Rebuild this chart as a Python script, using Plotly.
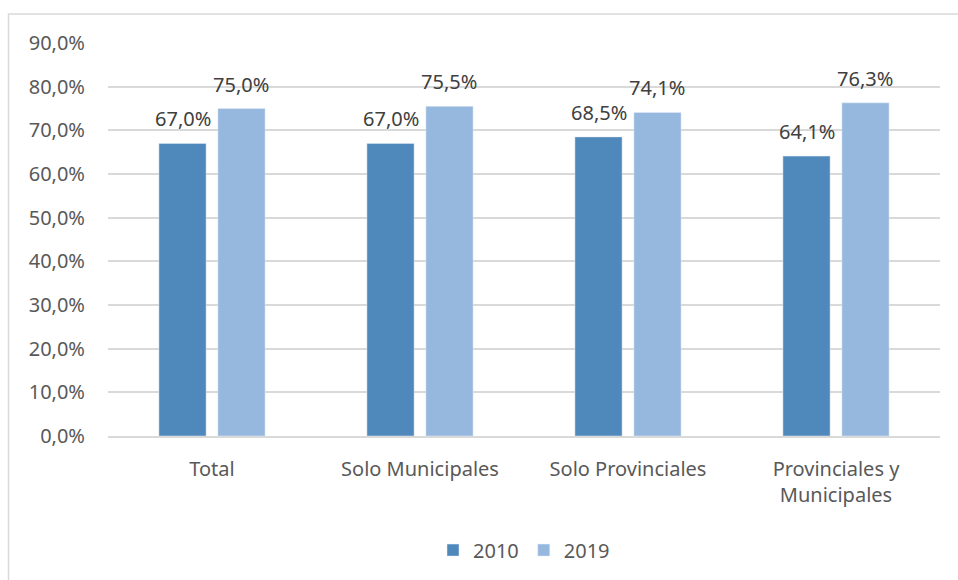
import plotly.graph_objects as go

categories = ["Total", "Solo Municipales", "Solo Provinciales", "Provinciales y<br>Municipales"]
series_names = ["2010", "2019"]
values_2010 = [67.0, 67.0, 68.5, 64.1]
values_2019 = [75.0, 75.5, 74.1, 76.3]
colors = ["#4f88bb", "#97b8de"]

W, H = 958, 580
L, R, T, B = 108, 18, 43, 143
pw, ph = W - L - R, H - T - B

fig = go.Figure()
for name, vals, col in zip(series_names, [values_2010, values_2019], colors):
    fig.add_trace(go.Bar(x=categories, y=vals, name=name, marker_color=col))

# data labels above bars
slot_px = pw / len(categories) * (1 - 0.433) / 2
for i, vals in enumerate([values_2010, values_2019]):
    shift = (i - 0.5) * slot_px
    for c, v in zip(categories, vals):
        fig.add_annotation(x=c, y=v, text=f"{v:.1f}%".replace(".", ","),
                           xshift=shift, yshift=9, yanchor="bottom", showarrow=False,
                           font=dict(size=20, color="#404040"))

fig.update_layout(
    width=W, height=H,
    margin=dict(l=L, r=R, t=T, b=B),
    paper_bgcolor="white", plot_bgcolor="white",
    separators=",.",
    barmode="group", bargap=0.433, bargroupgap=0.2,
    font=dict(family="Noto Sans", color="#595959", size=20),
    legend=dict(orientation="h", x=0.5, xanchor="center", y=-0.287, yanchor="middle",
                font=dict(size=20, color="#595959"), itemwidth=30,
                traceorder="normal"),
    showlegend=True,
)
fig.update_yaxes(range=[0, 90], dtick=10, tickformat=".1f", ticksuffix="%",
                 showgrid=True, gridcolor="#d9d9d9", gridwidth=1.5,
                 zeroline=False, showline=False, ticks="", ticklabelstandoff=22,
                 tickfont=dict(size=20, color="#595959"))
fig.update_xaxes(showline=True, linecolor="#d9d9d9", linewidth=2, ticks="",
                 ticklabelstandoff=14,
                 tickfont=dict(size=20, color="#595959"))

# chart border (top and left visible)
fig.add_shape(type="rect", xref="paper", yref="paper",
              x0=(8.5 - L) / pw, x1=(W + 5 - L) / pw,
              y0=-(B + 5) / ph, y1=(H - 14 - B) / ph,
              line=dict(color="#d9d9d9", width=1.5), layer="below")

fig.write_html("out.html")
